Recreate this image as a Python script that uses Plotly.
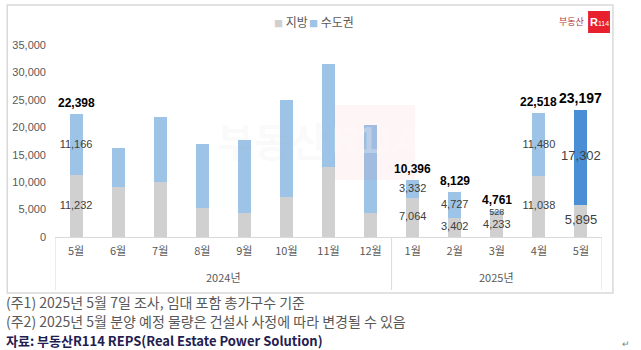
import plotly.graph_objects as go

# ---------------- data ----------------
years = ["2024년"] * 8 + ["2025년"] * 5
months = ["5월", "6월", "7월", "8월", "9월", "10월", "11월", "12월",
          "1월", "2월", "3월", "4월", "5월"]
jibang = [11232, 9200, 10000, 5200, 4300, 7350, 12750, 4450,
          7064, 3402, 4233, 11038, 5895]
sudo = [11166, 7100, 11900, 11700, 13300, 17550, 18750, 15900,
        3332, 4727, 528, 11480, 17302]
labeled = [True, False, False, False, False, False, False, False,
           True, True, True, True, True]
y_ticks = [0, 5000, 10000, 15000, 20000, 25000, 30000, 35000]
series_names = ["지방", "수도권"]

footnote1 = "(주1) 2025년 5월 7일 조사, 임대 포함 총가구수 기준"
footnote2 = "(주2) 2025년 5월 분양 예정 물량은 건설사 사정에 따라 변경될 수 있음"
source = "자료: 부동산R114 REPS(Real Estate Power Solution)"

# ---------------- styles ----------------
W, H = 641, 350
L, R, T, B = 52, 39, 45, 113
GRAY = "#D0D0D0"
BLUE = "#9DC3E6"
BLUE_DARK = "#4A8FD6"
TXT = "#595959"
LINE = "#D9D9D9"
FONT = "Liberation Sans, Noto Sans CJK KR, sans-serif"
KFONT = "Noto Sans CJK KR, sans-serif"

n = len(months)
blue_colors = [BLUE] * (n - 1) + [BLUE_DARK]

# unique category keys (zero-width space) so repeated month names stay separate
seen = {}
months_u = []
for m in months:
    k = seen.get(m, 0)
    months_u.append(m + "\u200b" * k)
    seen[m] = k + 1

totals = [a + b for a, b in zip(jibang, sudo)]


def px_x(p):
    return (p - L) / (W - L - R)


def px_y(p):
    return (H - B - p) / (H - B - T)


fig = go.Figure()
fig.add_trace(go.Bar(x=months_u, y=jibang, name=series_names[0], marker_color=GRAY,
                     marker_line_width=0, showlegend=False))
fig.add_trace(go.Bar(x=months_u, y=sudo, name=series_names[1], marker_color=blue_colors,
                     marker_line_width=0, showlegend=False))

last = n - 1
norm = [i for i in range(n) if labeled[i] and i != last]


def sub(lst, ids):
    return [lst[i] for i in ids]


def fmt(v):
    return f"{v:,}"


def seg_size(v, base):
    return base - 2 if v < 1000 else base


def text_trace(ids, ys, texts, sizes, color):
    return go.Scatter(
        x=sub(months_u, ids), y=ys, text=texts, mode="text",
        textposition="middle center",
        textfont=dict(size=sizes, color=color, family=FONT),
        showlegend=False, hoverinfo="skip")


fig.add_trace(text_trace(norm, [jibang[i] / 2 for i in norm],
                         [fmt(jibang[i]) for i in norm],
                         [seg_size(jibang[i], 11) for i in norm], "#404040"))
fig.add_trace(text_trace(norm, [jibang[i] + sudo[i] / 2 for i in norm],
                         [fmt(sudo[i]) for i in norm],
                         [seg_size(sudo[i], 11) for i in norm], "#404040"))
fig.add_trace(text_trace([last], [jibang[last] / 2],
                         [fmt(jibang[last])], [13], "#404040"))
fig.add_trace(text_trace([last], [jibang[last] + sudo[last] / 2],
                         [fmt(sudo[last])], [13], "#404040"))

# year groups (computed from data)
groups = []
for i, y in enumerate(years):
    if not groups or groups[-1][0] != y:
        groups.append([y, i, i])
    else:
        groups[-1][2] = i

shapes = [
    dict(type="rect", xref="paper", yref="paper",
         x0=px_x(4), x1=px_x(613), y0=px_y(293), y1=px_y(5),
         line=dict(color=LINE, width=1.5), layer="below"),
    dict(type="rect", xref="paper", yref="paper",
         x0=px_x(588), x1=px_x(610), y0=px_y(33), y1=px_y(11),
         fillcolor="#E8202E", line=dict(width=0)),
    dict(type="rect", xref="paper", yref="paper",
         x0=px_x(333), x1=px_x(414), y0=px_y(180), y1=px_y(105),
         fillcolor="rgba(235,60,80,0.05)", line=dict(width=0), layer="above"),
]
div_pos = sorted({g[1] - 0.5 for g in groups} | {g[2] + 0.5 for g in groups})
for d in div_pos:
    shapes.append(dict(type="line", xref="x", yref="paper", x0=d, x1=d,
                       y0=0, y1=px_y(290), line=dict(color=LINE, width=1)))

annotations = [
    dict(xref="paper", yref="paper", x=px_x(270), y=px_y(22),
         text=f"<span style='color:{GRAY};font-size:9px'>■</span> {series_names[0]}",
         showarrow=False, xanchor="left", yanchor="middle",
         font=dict(size=12, color=TXT, family=KFONT)),
    dict(xref="paper", yref="paper", x=px_x(305), y=px_y(22),
         text=f"<span style='color:{BLUE};font-size:9px'>■</span> {series_names[1]}",
         showarrow=False, xanchor="left", yanchor="middle",
         font=dict(size=12, color=TXT, family=KFONT)),
    dict(xref="paper", yref="paper", x=px_x(586), y=px_y(22),
         text="부동산", showarrow=False, xanchor="right", yanchor="middle",
         font=dict(size=9, color="#B03A3A", family=KFONT)),
    dict(xref="paper", yref="paper", x=px_x(599), y=px_y(22),
         text="<b>R</b><span style='font-size:7px'>114</span>", showarrow=False,
         xanchor="center", yanchor="middle",
         font=dict(size=11, color="#FFFFFF", family=FONT)),
    dict(xref="paper", yref="paper", x=px_x(270), y=px_y(140),
         text="<b>부동산</b>", showarrow=False, xanchor="center", yanchor="middle",
         font=dict(size=40, color="rgba(190,190,190,0.07)", family=KFONT)),
    dict(xref="paper", yref="paper", x=px_x(373), y=px_y(140),
         text="<b>R114</b>", showarrow=False, xanchor="center", yanchor="middle",
         font=dict(size=36, color="rgba(255,255,255,0.3)", family=FONT)),
    dict(xref="paper", yref="paper", x=px_x(1), y=px_y(302),
         text=footnote1, showarrow=False, xanchor="left", yanchor="middle",
         font=dict(size=14, color=TXT, family=KFONT)),
    dict(xref="paper", yref="paper", x=px_x(1), y=px_y(321),
         text=footnote2, showarrow=False, xanchor="left", yanchor="middle",
         font=dict(size=14, color=TXT, family=KFONT)),
    dict(xref="paper", yref="paper", x=px_x(1), y=px_y(340),
         text=f"<b>{source}</b>", showarrow=False, xanchor="left", yanchor="middle",
         font=dict(size=13, color="#1F2050", family=KFONT)),
    dict(xref="paper", yref="paper", x=px_x(626), y=px_y(344),
         text="↵", showarrow=False, xanchor="center", yanchor="middle",
         font=dict(size=9, color="#808080", family=FONT)),
]
for name, a, b in groups:
    annotations.append(dict(xref="x", yref="paper", x=(a + b) / 2, y=px_y(277),
                            text=name, showarrow=False, xanchor="center",
                            yanchor="middle",
                            font=dict(size=11, color=TXT, family=KFONT)))
# total labels
for i in range(n):
    if labeled[i]:
        annotations.append(dict(
            xref="x", yref="y", x=months_u[i], y=totals[i],
            text=f"<b>{fmt(totals[i])}</b>", showarrow=False,
            xanchor="center", yanchor="bottom", yshift=2,
            font=dict(size=14 if i == last else 12, color="#000000", family=FONT)))

fig.update_layout(
    width=W, height=H,
    margin=dict(l=L, r=R, t=T, b=B, pad=0),
    paper_bgcolor="white", plot_bgcolor="white",
    barmode="stack", bargap=0.69,
    font=dict(family=FONT, color=TXT, size=11),
    showlegend=False,
    xaxis=dict(type="category", showline=True, linecolor=LINE,
               linewidth=1, ticks="", showgrid=False, ticklabelstandoff=4,
               range=[-0.5, n - 0.5],
               tickvals=months_u, ticktext=months,
               tickfont=dict(size=11, color=TXT, family=KFONT)),
    yaxis=dict(range=[0, 35000], tickvals=y_ticks, tickformat=",",
               showgrid=False, showline=False, zeroline=False, ticks="",
               ticklabelstandoff=8,
               tickfont=dict(size=11, color=TXT, family=FONT)),
    shapes=shapes, annotations=annotations,
)

fig.write_html("out.html")
